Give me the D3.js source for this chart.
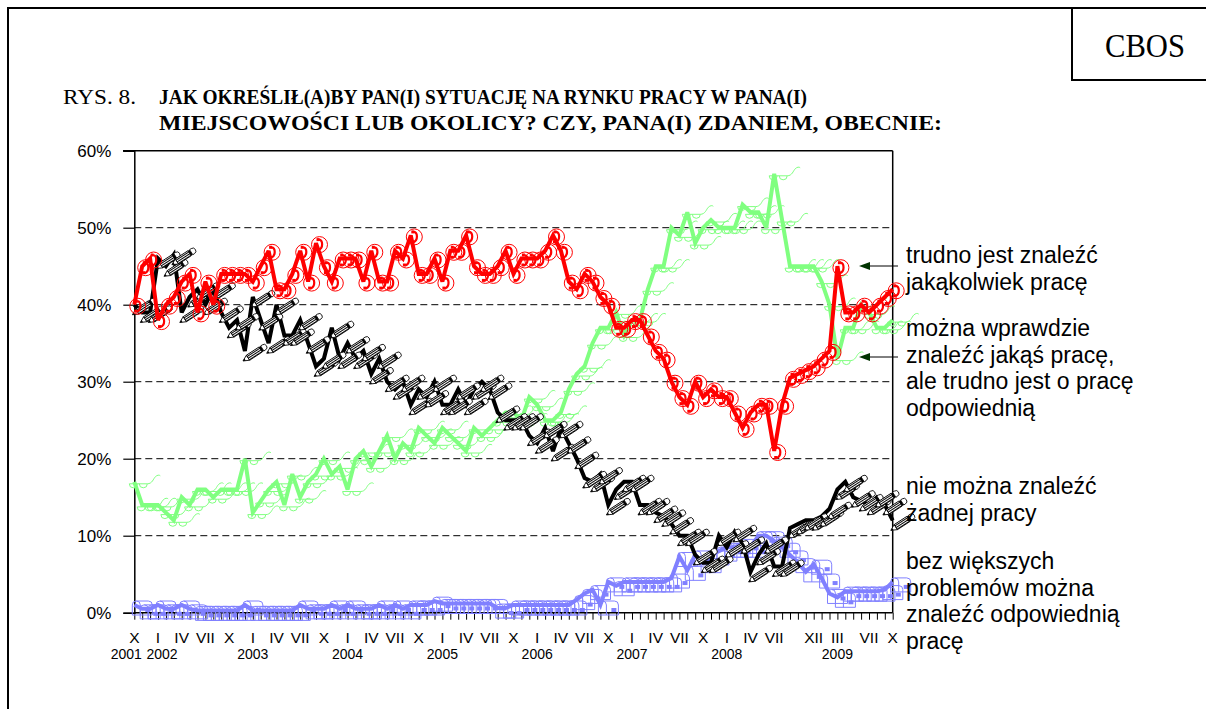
<!DOCTYPE html>
<html><head><meta charset="utf-8">
<script src="https://cdn.jsdelivr.net/npm/d3@7"></script>
<style>body{margin:0;background:#fff} svg{display:block}</style>
</head><body><svg id="c" width="1206" height="709"></svg>
<script>
// ---------- DATA ----------
const categories = [];
for (let y = 2001, m = 10; y < 2009 || (y === 2009 && m <= 10); ) {
  categories.push(y + "-" + String(m).padStart(2, "0"));
  m++; if (m > 12) { m = 1; y++; }
}
// "trudno jest znaleźć jakąkolwiek pracę"
const seriesRed = [40,45,46,38,40,41,43,44,39,43,
 40,44,44,44,44,43,45,47,42,42,
 44,47,43,48,45,43,46,46,46,43,
 47,43,43,47,46,49,44,44,46,43,
 47,47,49,45,44,44,45,47,44,46,
 46,46,47,49,47,43,42,44,43,41,
 40,37,37,38,38,36,34,33,30,28,
 27,30,28,29,28,28,26,24,26,27,
 27,21,27,30.5,31,31.5,32,33,34,45,
 39,39,40,39,40,41,42];
// "można wprawdzie znaleźć jakąś pracę, ale trudno jest o pracę odpowiednią"
const seriesGreen = [17,14,14,14,13,12,15,14,16,16,
 15,16,16,16,20,13,14.5,16,17,14,
 18,15,17,18,20,18,19,16,20,21,
 19,21,23,20,22,21,24,23,22,24,
 23,22,21,24,23,24,25,26,26,25,
 28,27,25,25,26,29,31,32,35,37,
 37,39,36,38,38,42,45,45,50,49,
 52,48,50,51,50,50,50,53,52,52,
 50,57,51,45,45,45,45,43,40,33,
 37,37,40,39,37,37,38];
// "nie można znaleźć żadnej pracy"
const seriesBlack = [40,39,39,46,45,46.5,39,41,42,40,
 42,39,37,38,34,41,38,35,40,36,
 36,38,35,32,33,37,33,35,33,34,
 31,33,30,29,30,27,29,28,30,27,
 27,29,27,29,30,29,26,25,25,25,
 23,22,24,21,24,22,20,17.5,17,18,
 14,16,17,17,14,14,13,12.5,11.5,10,
 10,7.5,6.5,6.5,10,8.5,10.5,9,5.3,7.5,
 9,6,6,11,11.5,12,12,12.5,13.5,16,
 17,15,14.5,14,15,14,12];
// "bez większych problemów można znaleźć odpowiednią pracę"
const seriesBlue = [1,0.5,0.5,1,0.5,0.5,1,0.5,0.3,0.3,
 0.3,0.3,0.3,0.3,1,0.3,0.3,0.3,0.3,0.3,
 0.3,1,0.5,0.5,0.5,1,0.5,1,0.5,0.5,
 0.5,1,0.5,1,0.5,1,1,1,1.5,1.2,
 1.2,1.2,1.2,1.2,1.2,1.2,0.6,0.6,1,1,
 1,1,1,1,1,1,1.7,2.5,3,1,
 4,3.5,4,4,4,4,4,4,4.5,7.3,
 5.5,7.5,6.5,7.5,8,8.5,8.5,9,8.5,10,
 10,9.3,8.5,7.5,6.5,5.3,6.3,4.5,2.5,2,
 2.8,2.8,2.8,2.8,2.8,3,4];
const yTicks = [0,10,20,30,40,50,60];
const monthTickLabels = [
 ["2001-10","X"],["2002-01","I"],["2002-04","IV"],["2002-07","VII"],["2002-10","X"],
 ["2003-01","I"],["2003-04","IV"],["2003-07","VII"],["2003-10","X"],
 ["2004-01","I"],["2004-04","IV"],["2004-07","VII"],["2004-10","X"],
 ["2005-01","I"],["2005-04","IV"],["2005-07","VII"],["2005-10","X"],
 ["2006-01","I"],["2006-04","IV"],["2006-07","VII"],["2006-10","X"],
 ["2007-01","I"],["2007-04","IV"],["2007-07","VII"],["2007-10","X"],
 ["2008-01","I"],["2008-04","IV"],["2008-07","VII"],
 ["2008-12","XII"],["2009-03","III"],["2009-07","VII"],["2009-10","X"]];
const yearTickLabels = [["2001-10","2001"],["2002-01","2002"],["2003-01","2003"],["2004-01","2004"],
 ["2005-01","2005"],["2006-01","2006"],["2007-01","2007"],["2008-01","2008"],["2009-03","2009"]];
const legendRed = ["trudno jest znaleźć","jakąkolwiek pracę"];
const legendGreen = ["można wprawdzie","znaleźć jakąś pracę,","ale trudno jest o pracę","odpowiednią"];
const legendBlack = ["nie można znaleźć","żadnej pracy"];
const legendBlue = ["bez większych","problemów można","znaleźć odpowiednią","pracę"];

// ---------- CHART ----------
const svg = d3.select("#c");
const SANS = "'Liberation Sans', Arial, sans-serif";
const SERIF = "'Liberation Serif', 'Times New Roman', serif";
const defs = svg.append("defs");
defs.append("pattern").attr("id","hatch").attr("width",2).attr("height",2)
  .attr("patternUnits","userSpaceOnUse")
  .call(p => { p.append("rect").attr("width",2).attr("height",2).attr("fill","#fff");
               p.append("rect").attr("width",2).attr("height",1).attr("fill","#000"); });

// page frame + CBOS box
svg.append("rect").attr("x",8).attr("y",8).attr("width",1300).attr("height",800)
  .attr("fill","none").attr("stroke","#000").attr("stroke-width",2);
svg.append("rect").attr("x",1072).attr("y",8).attr("width",300).attr("height",72)
  .attr("fill","none").attr("stroke","#000").attr("stroke-width",2);
svg.append("text").attr("x",1105).attr("y",57)
  .attr("font-family",SERIF).attr("font-size",33).attr("textLength",80).attr("lengthAdjust","spacingAndGlyphs").text("CBOS");

// title
svg.append("text").attr("x",63).attr("y",104).attr("font-family",SERIF).attr("font-size",22)
  .attr("textLength",73).attr("lengthAdjust","spacingAndGlyphs").text("RYS. 8.");
svg.append("text").attr("x",159).attr("y",104).attr("font-family",SERIF).attr("font-size",22)
  .attr("font-weight","bold").attr("textLength",648).attr("lengthAdjust","spacingAndGlyphs")
  .text("JAK OKREŚLIŁ(A)BY PAN(I) SYTUACJĘ NA RYNKU PRACY W PANA(I)");
svg.append("text").attr("x",159).attr("y",130).attr("font-family",SERIF).attr("font-size",22)
  .attr("font-weight","bold").attr("textLength",783).attr("lengthAdjust","spacingAndGlyphs")
  .text("MIEJSCOWOŚCI LUB OKOLICY? CZY, PANA(I) ZDANIEM, OBECNIE:");

const x0 = 134.3, x1 = 892.7, yTop = 150.7, yBot = 612.7;
const x = d3.scalePoint().domain(categories).range([x0, x1]);
const y = d3.scaleLinear().domain([0, 60]).range([yBot, yTop]);

// gridlines
const g = svg.append("g");
g.selectAll("line.grid").data(yTicks.filter(t => t > 0 && t < 60)).join("line")
  .attr("x1", x0).attr("x2", x1).attr("y1", d => y(d)).attr("y2", d => y(d))
  .attr("stroke","#000").attr("stroke-width",1).attr("stroke-dasharray","7,4");
// borders
g.append("line").attr("x1",123).attr("x2",x1).attr("y1",y(60)).attr("y2",y(60)).attr("stroke","#000").attr("stroke-width",1.5);
g.append("line").attr("x1",x1).attr("x2",x1).attr("y1",y(60)).attr("y2",y(0)).attr("stroke","#000").attr("stroke-width",1.5);

// y axis
const yAxis = d3.axisLeft(y).tickValues(yTicks).tickSize(11).tickFormat(d => d + "%");
const ya = svg.append("g").attr("transform",`translate(${x0},0)`).call(yAxis);
ya.select(".domain").attr("stroke","#000").attr("stroke-width",1.5);
ya.selectAll(".tick line").attr("stroke","#000").attr("stroke-width",1.2);
ya.selectAll(".tick text").attr("x",-23).attr("font-family",SANS).attr("font-size",17).attr("fill","#000");

// x axis with monthly ticks
const xAxis = d3.axisBottom(x).tickSize(7).tickFormat("");
const xa = svg.append("g").attr("transform",`translate(0,${yBot})`).call(xAxis);
xa.select(".domain").attr("stroke","#000").attr("stroke-width",1.5).attr("d",`M${x0},0H${x1}`);
xa.selectAll(".tick line").attr("stroke","#000").attr("stroke-width",1);
svg.append("g").selectAll("text").data(monthTickLabels).join("text")
  .attr("x", d => x(d[0])).attr("y", 643).attr("text-anchor","middle")
  .attr("font-family",SANS).attr("font-size",15.5).text(d => d[1]);
const yearShift = {"2001": -8, "2002": 4};
svg.append("g").selectAll("text").data(yearTickLabels).join("text")
  .attr("x", d => x(d[0]) + (yearShift[d[1]] || 0)).attr("y", 659).attr("text-anchor","middle")
  .attr("font-family",SANS).attr("font-size",14).text(d => d[1]);

// ---------- markers ----------
function drawPhone(sel, color){
  sel.append("circle").attr("cx",3.5).attr("cy",1.5).attr("r",8)
    .attr("fill","none").attr("stroke",color).attr("stroke-width",1);
  sel.append("path").attr("d","M3,-3.5 C7,-3 7.5,5 2.5,7").attr("fill","none")
    .attr("stroke",color).attr("stroke-width",2.2);
  sel.append("rect").attr("x",0.5).attr("y",-5).attr("width",3).attr("height",3).attr("fill",color);
  sel.append("rect").attr("x",0).attr("y",5).attr("width",3).attr("height",3).attr("fill",color);
}
function drawPencil(sel){
  const p = sel.append("g").attr("transform","translate(9,3) rotate(-33)");
  p.append("path").attr("d","M-13,0 L-7,-3 L-7,3 Z").attr("fill","#fff").attr("stroke","#000").attr("stroke-width",0.8);
  p.append("path").attr("d","M-13,0 L-10.5,-1.2 L-10.5,1.2 Z").attr("fill","#000");
  p.append("rect").attr("x",-7).attr("y",-3).attr("width",15).attr("height",6)
    .attr("fill","url(#hatch)").attr("stroke","#000").attr("stroke-width",0.8);
  p.append("rect").attr("x",8).attr("y",-3).attr("width",2).attr("height",6).attr("fill","#000");
  p.append("path").attr("d","M10,-3 H12 A3,3 0 0 1 12,3 H10 Z").attr("fill","#fff").attr("stroke","#000").attr("stroke-width",0.8);
}
function drawGlasses(sel, color){
  sel.append("path")
    .attr("d","M-5,2 H13 M-5,2 A4,4 0 0 0 3,2 M5,2 A4,4 0 0 0 13,2 M13,2 C18,2 19,-3 21,-5 C23,-7 25,-7 26,-6")
    .attr("fill","none").attr("stroke",color).attr("stroke-width",1);
}
function drawMailbox(sel, color){
  sel.append("path").attr("d","M-2,10 V0 A4,4 0 0 1 2,-4 H14 A4,4 0 0 1 18,0 V10 Z")
    .attr("fill","none").attr("stroke",color).attr("stroke-width",1);
  sel.append("path").attr("d","M2,-4 A4,4 0 0 1 6,0 V10").attr("fill","none").attr("stroke",color).attr("stroke-width",1);
  sel.append("rect").attr("x",11).attr("y",3).attr("width",5).attr("height",4).attr("fill",color);
}

const line = d3.line().x((d,i) => x(categories[i])).y(d => y(d));
const series = [
  {vals: seriesBlue, color: "#8080FF", marker: drawMailbox},
  {vals: seriesGreen, color: "#80FF80", marker: drawGlasses},
  {vals: seriesBlack, color: "#000000", marker: drawPencil},
  {vals: seriesRed, color: "#FF0000", marker: drawPhone}
];
series.forEach(s => {
  const sg = svg.append("g");
  sg.append("path").attr("d", line(s.vals)).attr("fill","none")
    .attr("stroke", s.color).attr("stroke-width", 4).attr("stroke-linejoin","miter").attr("stroke-miterlimit",3);
  sg.selectAll("g.m").data(s.vals).join("g").attr("class","m")
    .attr("transform",(d,i) => `translate(${x(categories[i])},${y(d)})`)
    .each(function(){ s.marker(d3.select(this), s.color); });
});

// ---------- legend ----------
function legendBlock(lines, x, y0){
  svg.append("g").selectAll("text").data(lines).join("text")
    .attr("x", x).attr("y", (d,i) => y0 + i*26.5)
    .attr("font-family",SANS).attr("font-size",23).text(d => d);
}
legendBlock(legendRed, 906, 263);
legendBlock(legendGreen, 906, 336);
legendBlock(legendBlack, 906, 494);
legendBlock(legendBlue, 906, 569);
// arrows
[266, 357].forEach(ay => {
  svg.append("line").attr("x1",868).attr("x2",898).attr("y1",ay).attr("y2",ay).attr("stroke","#000").attr("stroke-width",1);
  svg.append("path").attr("d",`M859,${ay} L870,${ay-4} L870,${ay+4} Z`).attr("fill","#003300");
});
</script></body></html>
